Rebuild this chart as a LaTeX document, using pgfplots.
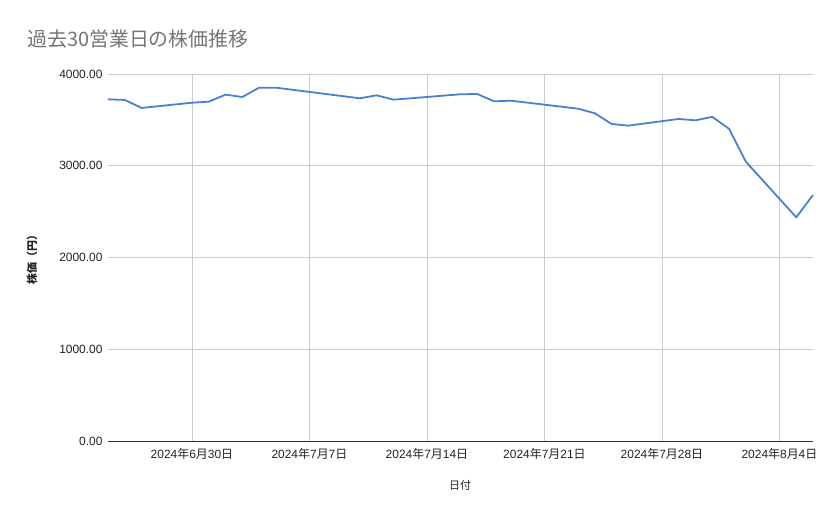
\documentclass[border=0pt]{standalone}
\usepackage{pgfplots}
\pgfplotsset{compat=1.18}
\usepackage{fontspec}
\setmainfont{Liberation Sans}
\newfontfamily\cjk{Noto Sans CJK JP}
\definecolor{lineblue}{HTML}{4A7FD4}
\definecolor{gridgray}{HTML}{CCCCCC}
\definecolor{titlegray}{HTML}{757575}
\definecolor{txt}{HTML}{222222}
\begin{document}
\begin{tikzpicture}[x=1bp,y=1bp]
\path[use as bounding box] (0,0) rectangle (839,519);
\node[anchor=base west, text=titlegray, inner sep=0pt, font=\cjk\fontsize{20}{23}\selectfont] at (27,472) {過去30営業日の株価推移};
\node[rotate=90, text=txt, inner sep=0pt, font=\cjk\bfseries\fontsize{11}{13}\selectfont] at (32,262) {株価（円）};
\node[text=txt, inner sep=0pt, font=\cjk\fontsize{11}{13}\selectfont] at (460,34) {日付};
\begin{axis}[
  at={(108bp,78bp)}, anchor=south west,
  width=705bp, height=367bp, scale only axis,
  xmin=-5, xmax=37, ymin=0, ymax=4000,
  xtick={0,7,14,21,28,35},
  xticklabels={2024{\cjk 年}6{\cjk 月}30{\cjk 日},2024{\cjk 年}7{\cjk 月}7{\cjk 日},2024{\cjk 年}7{\cjk 月}14{\cjk 日},2024{\cjk 年}7{\cjk 月}21{\cjk 日},2024{\cjk 年}7{\cjk 月}28{\cjk 日},2024{\cjk 年}8{\cjk 月}4{\cjk 日}},
  ytick={0,1000,2000,3000,4000},
  yticklabels={0.00,1000.00,2000.00,3000.00,4000.00},
  grid=major,
  grid style={gridgray, line width=0.8pt},
  major tick length=0pt,
  axis line style={draw=none},
  tick label style={text=txt, font=\fontsize{12}{14}\selectfont},
  xticklabel style={yshift=-4bp},
  yticklabel style={xshift=-2bp},
  clip=false,
]
\addplot[draw=black!80, line width=0.9pt, forget plot] coordinates {(-5,0) (37,0)};
\addplot[lineblue, line width=1.8pt, line join=round] coordinates {
(-5,3724) (-4,3717) (-3,3630) (0,3687) (1,3698) (2,3775) (3,3749) (4,3851) (5,3851)
(10,3735) (11,3768) (12,3720) (16,3779) (17,3782) (18,3702) (19,3709) (23,3622)
(24,3572) (25,3455) (26,3437) (29,3510) (30,3495) (31,3533) (32,3402) (33,3044)
(36,2438) (37,2681)
};
\end{axis}
\end{tikzpicture}
\end{document}
